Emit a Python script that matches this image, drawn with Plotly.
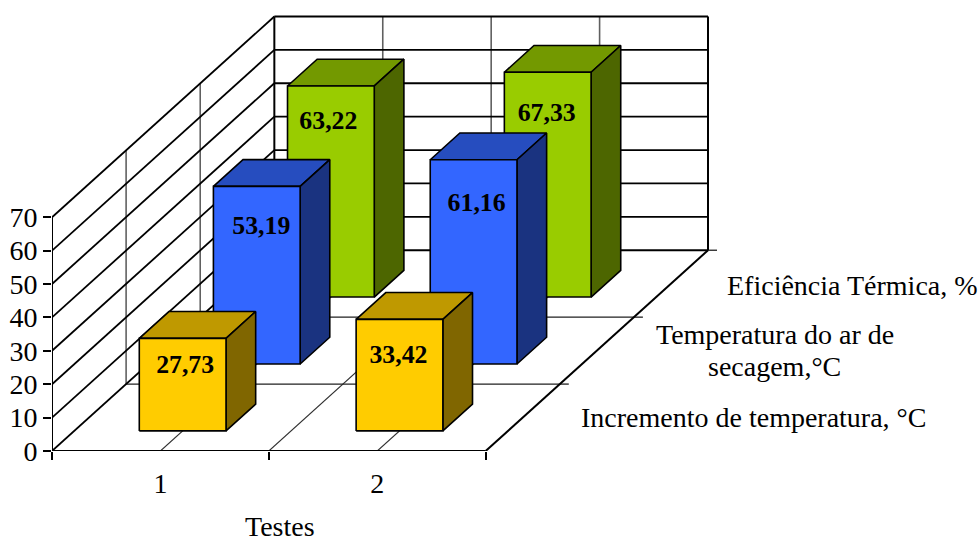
import plotly.graph_objects as go

# Data
categories = ["1", "2"]
series_names = ["Incremento de temperatura, °C",
                "Temperatura do ar de",
                "secagem,°C",
                "Eficiência Térmica, %"]
incremento = [27.73, 33.42]
temperatura = [53.19, 61.16]
eficiencia = [63.22, 67.33]
y_ticks = [0, 10, 20, 30, 40, 50, 60, 70]

series_values = [incremento, temperatura, eficiencia]
front_colors = ["#FFCC00", "#3366FF", "#99CC00"]
side_colors = ["#806600", "#1A3380", "#4D6600"]
top_colors = ["#BF9900", "#264DBF", "#739900"]

# Oblique projection settings (pixel scale of the axes)
PX_X = 217.0        # pixels per category
PX_Y = 234.0 / 70   # pixels per value unit
X0_PX, Y0_PX = 51.5, 451.5
RIGHT_PX, TOP_PX = 735.0, 5.0
DEPTH_X = 222.5 / PX_X
DEPTH_Y = 201.0 / PX_Y
YMAX = 70.0
BAR_HALF = 0.2
BAR_DEPTH = 0.4 / 3


def proj(x, v, d):
    return x + d * DEPTH_X, v + d * DEPTH_Y


def dx_px(px):
    return 0.5 + (px - X0_PX) / PX_X


def dy_px(py):
    return (Y0_PX - py) / PX_Y


def paper_x(px):
    return (px - X0_PX) / (RIGHT_PX - X0_PX)


def paper_y(py):
    return (Y0_PX - py) / (Y0_PX - TOP_PX)


def segs(pairs):
    xs, ys = [], []
    for a, b in pairs:
        xs += [a[0], b[0], None]
        ys += [a[1], b[1], None]
    return xs, ys


fig = go.Figure()


def add_lines(pairs, color, width):
    xs, ys = segs(pairs)
    fig.add_trace(go.Scatter(x=xs, y=ys, mode="lines", hoverinfo="skip", showlegend=False,
                             cliponaxis=False, line=dict(color=color, width=width)))


half = [0.5 + 0.5 * i for i in range(5)]
# grey verticals on back wall, left wall, and floor lines
add_lines([(proj(x, 0, 1), proj(x, YMAX, 1)) for x in half[1:-1]], "#606060", 1.6)
add_lines([(proj(0.5, 0, d), proj(0.5, YMAX, d)) for d in (1 / 3, 2 / 3)], "#606060", 1.6)
add_lines([(proj(x, 0, 0), proj(x, 0, 1)) for x in half[1:-1]], "#303030", 1.1)
add_lines([(proj(0.5, 0, d), proj(2.5, 0, d)) for d in (1 / 3, 2 / 3)], "#202020", 1.3)
# depth ticks
add_lines([(proj(2.5, 0, d), (proj(2.5, 0, d)[0] + 9 / PX_X, proj(2.5, 0, d)[1]))
           for d in (1 / 3, 2 / 3, 1)], "#202020", 1.3)
# horizontal and diagonal gridlines
add_lines([(proj(0.5, v, 1), proj(2.5, v, 1)) for v in y_ticks], "#000000", 1.8)
add_lines([(proj(0.5, v, 0), proj(0.5, v, 1)) for v in y_ticks], "#000000", 1.8)
# frame
add_lines([(proj(0.5, 0, 1), proj(0.5, YMAX, 1)), (proj(2.5, 0, 1), proj(2.5, YMAX, 1)),
           (proj(0.5, 0, 0), proj(0.5, YMAX, 0)), (proj(2.5, 0, 0), proj(2.5, 0, 1)),
           (proj(0.5, 0, 0), proj(2.5, 0, 0))], "#000000", 2)


def poly(pts):
    xs = [p[0] for p in pts] + [pts[0][0]]
    ys = [p[1] for p in pts] + [pts[0][1]]
    return xs, ys


for s in (2, 1, 0):
    d0 = s / 3 + 0.1
    d1 = d0 + BAR_DEPTH
    for i, v in enumerate(series_values[s]):
        c = i + 1
        l, r = c - BAR_HALF, c + BAR_HALF
        faces = [
            ([proj(l, v, d0), proj(r, v, d0), proj(r, v, d1), proj(l, v, d1)], top_colors[s]),
            ([proj(r, 0, d0), proj(r, v, d0), proj(r, v, d1), proj(r, 0, d1)], side_colors[s]),
            ([proj(l, 0, d0), proj(r, 0, d0), proj(r, v, d0), proj(l, v, d0)], front_colors[s]),
        ]
        for pts, col in faces:
            xs, ys = poly(pts)
            fig.add_trace(go.Scatter(x=xs, y=ys, mode="lines", fill="toself", fillcolor=col,
                                     hoverinfo="skip", showlegend=False, cliponaxis=False,
                                     line=dict(color="#000000", width=1.6)))

# Value labels: pixel nudges from the top-front centre of each bar
label_dx = [[2.5, -1], [4.5, 3], [-2.5, -1]]
label_dy = [[28, 37], [41, 45], [37, 42]]
lx, ly, lt = [], [], []
for s in range(3):
    d0 = s / 3 + 0.1
    for i, v in enumerate(series_values[s]):
        px, py = proj(i + 1, v, d0)
        lx.append(px + label_dx[s][i] / PX_X)
        ly.append(py - label_dy[s][i] / PX_Y)
        lt.append(f"{v:.2f}".replace(".", ","))
fig.add_trace(go.Scatter(x=lx, y=ly, text=lt, mode="text", hoverinfo="skip", showlegend=False,
                         cliponaxis=False,
                         textfont=dict(family="Liberation Serif", size=25.8, color="#000000",
                                       weight="bold")))

FONT = dict(family="Liberation Serif", size=28, color="#000000")
label_pos = [(754, 418), (775, 335), (775, 367), (853, 286)]
for name, (px, py) in zip(series_names, label_pos):
    fig.add_annotation(x=paper_x(px), y=paper_y(py), text=name, showarrow=False, xanchor="center",
                       yanchor="middle", font=FONT, xref="paper", yref="paper", align="center")
fig.add_annotation(x=paper_x(280), y=paper_y(527), text="Testes", showarrow=False, xanchor="center",
                   yanchor="middle", font=FONT, xref="paper", yref="paper")

fig.update_layout(
    width=979, height=545, autosize=False,
    margin=dict(l=X0_PX, r=979 - RIGHT_PX, t=TOP_PX, b=545 - Y0_PX, pad=0),
    paper_bgcolor="#FFFFFF", plot_bgcolor="#FFFFFF", showlegend=False,
    xaxis=dict(range=[0.5, dx_px(RIGHT_PX)], showgrid=False, zeroline=False, showline=False,
               tickmode="array", tickvals=[1, 2], ticktext=categories, ticks="",
               tickfont=FONT, ticklabelstandoff=13,
               minor=dict(tickmode="array", tickvals=[0.5, 1.5, 2.5], ticks="outside", ticklen=8,
                          tickcolor="#000000", tickwidth=1.5, showgrid=False)),
    yaxis=dict(range=[0, dy_px(TOP_PX)], showgrid=False, zeroline=False, showline=False,
               tickmode="array", tickvals=y_ticks, ticks="outside", ticklen=8,
               tickcolor="#000000", tickwidth=1.5, tickfont=FONT),
)

fig.write_html("out.html", config=dict(displayModeBar=False),
               post_script="document.body.style.margin='0';")
